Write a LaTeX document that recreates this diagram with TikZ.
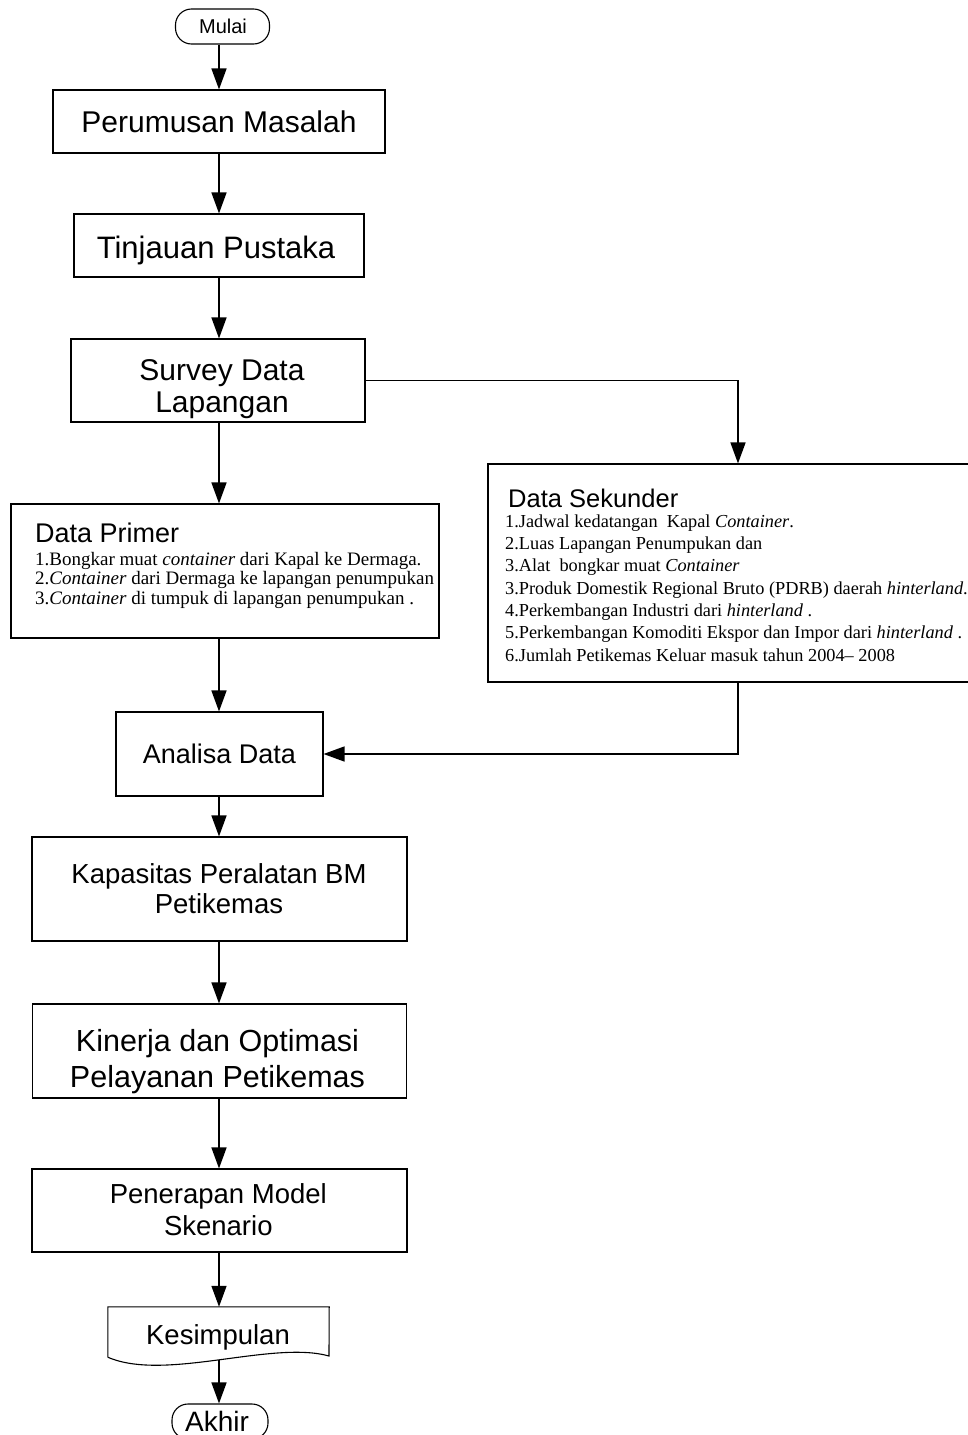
\documentclass[tikz,border=0pt]{standalone}
\usepackage{fontspec}
\setmainfont{Liberation Sans}
\newfontfamily\listfont{Liberation Serif}
\usetikzlibrary{arrows.meta}
\newcommand\fsz[2]{\fontsize{#1}{#2}\selectfont}

\begin{document}
\begin{tikzpicture}[x=1pt,y=-1pt,
  box/.style={draw, line width=1.1pt, inner sep=0pt},
  term/.style={draw, line width=1.1pt, rounded corners=16pt, inner sep=0pt,
    minimum width=94pt, minimum height=35pt},
  lbl/.style={inner sep=0pt, anchor=base, align=center},
  lst/.style={inner sep=0pt, anchor=base west, align=left},
  arr/.style={line width=1.5pt, -{Triangle[length=21pt,width=15pt]}}]
\useasboundingbox (0,0) rectangle (968,1435);

% ---- boxes of the flow ----
\node[term] (mulai) at (222.5,26.5) {};
\node[box, minimum width=332pt, minimum height=63pt] (perumusan) at (219,121.5) {};
\node[box, minimum width=290pt, minimum height=63pt] (tinjauan) at (219,245.5) {};
\node[box, minimum width=294pt, minimum height=83pt] (survey) at (218,380.5) {};
\node[box, minimum width=428pt, minimum height=134pt] (primer) at (225,571) {};
\node[box, minimum width=500pt, minimum height=218pt] (sekunder) at (738,573) {};
\node[box, minimum width=207pt, minimum height=84pt] (analisa) at (219.5,754) {};
\node[box, minimum width=375pt, minimum height=104pt] (kapasitas) at (219.5,889) {};
\node[box, minimum width=374pt, minimum height=94pt] (kinerja) at (219.5,1051) {};
\node[box, minimum width=375pt, minimum height=83pt] (penerapan) at (219.5,1210.5) {};
\node[minimum width=221pt, minimum height=50pt, inner sep=0pt] (kes) at (218.5,1332) {};
\node[term, minimum width=96pt] (akhir) at (220,1421.5) {};

% document shape with a wavy lower edge
\draw[line width=1.1pt] (kes.south west) -- (kes.north west) -- (kes.north east)
  -- (329,1356) .. controls (272,1340) and (165,1382) .. (kes.south west);
\coordinate (kesw) at (218.5,1360);

% ---- texts (multi-line texts are placed by the baseline of their last line) ----
\node[lbl, font=\fsz{20}{24}] (tmulai) at (223,33.5) {Mulai};
\node[lbl, font=\fsz{30}{36}] (tperumusan) at (219,132) {Perumusan Masalah};
\node[lbl, font=\fsz{31}{36}] (ttinjauan) at (216,258) {Tinjauan Pustaka};
\node[lbl, font=\fsz{30}{32}] (tsurvey) at (222,412) {Survey Data\\Lapangan};
\node[lst, font=\fsz{27}{30}] (tprimer) at (35,542) {Data Primer};
\node[lst, font={\listfont\fsz{19}{19.5}}] (lprimer) at (35,604)
  {1.Bongkar muat \textit{container} dari Kapal ke Dermaga.\\
   2.\textit{Container} dari Dermaga ke lapangan penumpukan\\
   3.\textit{Container} di tumpuk di lapangan penumpukan .};
\node[lst, font=\fsz{25.5}{30}] (tsekunder) at (508,507) {Data Sekunder};
\node[lst, font={\listfont\fsz{18.3}{22.3}}] (lsekunder) at (505,661)
  {1.Jadwal kedatangan\ \ Kapal \textit{Container}.\\
   2.Luas Lapangan Penumpukan dan\\
   3.Alat\ \ bongkar muat \textit{Container}\\
   3.Produk Domestik Regional Bruto (PDRB) daerah \textit{hinterland}.\\
   4.Perkembangan Industri dari \textit{hinterland} .\\
   5.Perkembangan Komoditi Ekspor dan Impor dari \textit{hinterland} .\\
   6.Jumlah Petikemas Keluar masuk tahun 2004– 2008};
\node[lbl, font=\fsz{27}{30}] (tanalisa) at (219.5,763.5) {Analisa Data};
\node[lbl, font=\fsz{27.5}{30}] (tkapasitas) at (219,913) {Kapasitas Peralatan BM\\Petikemas};
\node[lbl, font=\fsz{30.5}{36}] (tkinerja) at (217.5,1087) {Kinerja dan Optimasi\\Pelayanan Petikemas};
\node[lbl, font=\fsz{27.5}{32}] (tpenerapan) at (218.3,1235) {Penerapan Model\\Skenario};
\node[lbl, font=\fsz{27.5}{30}] (tkes) at (218,1344) {Kesimpulan};
\node[lbl, font=\fsz{28}{30}] (takhir) at (217,1431) {Akhir};

% ---- connectors ----
\draw[arr] (mulai.south -| perumusan.north) -- (perumusan.north);
\draw[arr] (perumusan.south) -- (tinjauan.north);
\draw[arr] (tinjauan.south) -- (tinjauan.south |- survey.north);
\draw[arr] (survey.south -| tinjauan.south) -- (tinjauan.south |- primer.north);
\draw[arr] (survey.east) -| (sekunder.north);
\draw[arr] (tinjauan.south |- primer.south) -- (tinjauan.south |- analisa.north);
\draw[arr] (sekunder.south) |- (analisa.east);
\draw[arr] (analisa.south -| tinjauan.south) -- (tinjauan.south |- kapasitas.north);
\draw[arr] (kapasitas.south -| tinjauan.south) -- (tinjauan.south |- kinerja.north);
\draw[arr] (kinerja.south -| tinjauan.south) -- (tinjauan.south |- penerapan.north);
\draw[arr] (penerapan.south -| tinjauan.south) -- (tinjauan.south |- kes.north);
\draw[arr] (kesw -| tinjauan.south) -- (tinjauan.south |- akhir.north);
\end{tikzpicture}
\end{document}
